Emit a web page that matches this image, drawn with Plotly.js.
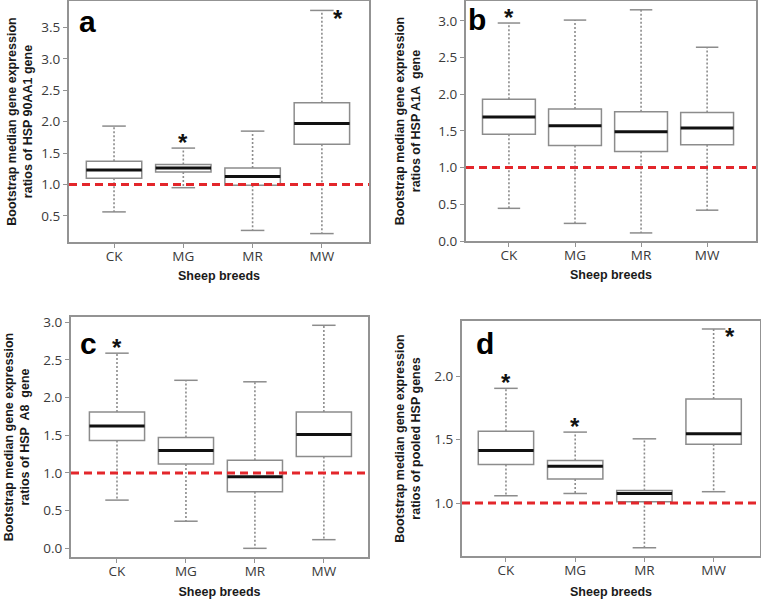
<!DOCTYPE html>
<html><head><meta charset="utf-8">
<script src="https://cdn.plot.ly/plotly-3.0.1.min.js"></script>
<style>html,body{margin:0;padding:0;background:#fff}</style>
</head><body><div id="chart" style="width:761px;height:599px"></div>
<script>
// ---------------- data ----------------
const breeds = ["CK", "MG", "MR", "MW"];
const panelLabels = ["a", "b", "c", "d"];
const yTitleLine1 = "Bootstrap median gene expression";
const geneTitles = ["ratios of HSP 90AA1 gene", "ratios of HSP A1A\u00a0 gene", "ratios of HSP\u00a0 A8\u00a0 gene", "ratios of pooled HSP genes"];
const xTitle = "Sheep breeds";
const referenceRatio = 1.0;

// panel a: HSP90AA1
const a_lower  = [0.565, 0.95, 0.27, 0.22];
const a_q1     = [1.10, 1.20, 0.99, 1.64];
const a_median = [1.23, 1.265, 1.13, 1.97];
const a_q3     = [1.37, 1.32, 1.265, 2.30];
const a_upper  = [1.93, 1.58, 1.85, 3.77];
const a_signif = ["MG", "MW"];

// panel b: HSPA1A
const b_lower  = [0.445, 0.24, 0.11, 0.42];
const b_q1     = [1.455, 1.30, 1.22, 1.31];
const b_median = [1.69, 1.57, 1.49, 1.54];
const b_q3     = [1.93, 1.80, 1.76, 1.75];
const b_upper  = [2.97, 3.01, 3.15, 2.64];
const b_signif = ["CK"];

// panel c: HSPA8
const c_lower  = [0.64, 0.36, 0.0, 0.115];
const c_q1     = [1.43, 1.12, 0.75, 1.22];
const c_median = [1.625, 1.30, 0.95, 1.51];
const c_q3     = [1.81, 1.47, 1.17, 1.81];
const c_upper  = [2.59, 2.23, 2.21, 2.96];
const c_signif = ["CK"];

// panel d: pooled HSP genes
const d_lower  = [1.058, 1.076, 0.648, 1.09];
const d_q1     = [1.304, 1.19, 1.01, 1.465];
const d_median = [1.415, 1.29, 1.076, 1.546];
const d_q3     = [1.567, 1.336, 1.10, 1.82];
const d_upper  = [1.905, 1.56, 1.507, 2.373];
const d_signif = ["CK", "MG", "MW"];

const panels = [
  {lower: a_lower, q1: a_q1, median: a_median, q3: a_q3, upper: a_upper, signif: a_signif},
  {lower: b_lower, q1: b_q1, median: b_median, q3: b_q3, upper: b_upper, signif: b_signif},
  {lower: c_lower, q1: c_q1, median: c_median, q3: c_q3, upper: c_upper, signif: c_signif},
  {lower: d_lower, q1: d_q1, median: d_median, q3: d_q3, upper: d_upper, signif: d_signif}
];

// ---------------- layout geometry ----------------
const W = 761, H = 599;
const frames = [[69, 369, 1, 242], [466, 756, 1, 241], [71, 368, 317, 557], [462, 760, 321, 556]];
const xRanges = [[-0.65, 3.68], [-0.65, 3.74], [-0.667, 3.64], [-0.635, 3.67]];
const yRanges = [[0.086, 3.92], [0.0, 3.27], [-0.115, 3.07], [0.583, 2.436]];
const labelPos = [[87, 22], [477, 20], [88, 343], [485, 343]];
const yTitleStandoff = [6, 15, 11, 11];
const xTitleStandoff = [7, 7, 10, 12];

const boxW = 0.8, capHalf = 0.17;
const gray = "#8c8c8c", frameGray = "#939393";
const traces = [];
const layout = {
  width: W, height: H, margin: {l: 0, r: 0, t: 0, b: 0},
  paper_bgcolor: "#fff", plot_bgcolor: "#fff", showlegend: false,
  shapes: [], annotations: []
};

panels.forEach((p, k) => {
  const sfx = k === 0 ? "" : String(k + 1);
  const xa = "x" + sfx, ya = "y" + sfx;
  const pos = breeds.map((_, i) => i);
  const common = {xaxis: xa, yaxis: ya, hoverinfo: "skip", showlegend: false};

  // whiskers (dotted)
  const wx = [], wy = [];
  pos.forEach(i => { wx.push(i, i, null, i, i, null); wy.push(p.q3[i], p.upper[i], null, p.q1[i], p.lower[i], null); });
  traces.push(Object.assign({type: "scatter", mode: "lines", x: wx, y: wy,
    line: {color: gray, width: 1.6, dash: "2px,2px"}}, common));
  // caps
  const cx = [], cy = [];
  pos.forEach(i => { cx.push(i - capHalf, i + capHalf, null, i - capHalf, i + capHalf, null); cy.push(p.upper[i], p.upper[i], null, p.lower[i], p.lower[i], null); });
  traces.push(Object.assign({type: "scatter", mode: "lines", x: cx, y: cy,
    line: {color: gray, width: 1.5}}, common));
  // boxes
  traces.push(Object.assign({type: "box", x: pos, q1: p.q1, median: p.median, q3: p.q3,
    lowerfence: p.q1, upperfence: p.q3, width: boxW, whiskerwidth: 0, boxpoints: false,
    fillcolor: "#ffffff", line: {color: gray, width: 1.5}}, common));
  // medians
  const mx = [], my = [];
  pos.forEach(i => { mx.push(i - boxW / 2, i + boxW / 2, null); my.push(p.median[i], p.median[i], null); });
  traces.push(Object.assign({type: "scatter", mode: "lines", x: mx, y: my,
    line: {color: "#111", width: 3}}, common));

  const f = frames[k];
  const axFont = {family: "Open Sans", size: 13.5, color: "#3a3a3a"};
  const titleFont = {family: "Liberation Sans", size: 12.5, weight: "bold", color: "#1a1a1a"};
  layout["xaxis" + sfx] = {
    domain: [f[0] / W, f[1] / W], anchor: ya, range: xRanges[k],
    tickmode: "array", tickvals: pos, ticktext: breeds,
    showline: true, mirror: true, linecolor: frameGray, linewidth: 2,
    ticks: "outside", ticklen: 4, tickcolor: frameGray, showgrid: false, zeroline: false,
    ticklabelstandoff: -3,
    tickfont: axFont, title: {text: xTitle, font: titleFont, standoff: xTitleStandoff[k]}
  };
  layout["yaxis" + sfx] = {
    domain: [1 - f[3] / H, 1 - f[2] / H], anchor: xa, range: yRanges[k],
    tick0: 0, dtick: 0.5, tickformat: ".1f",
    showline: true, mirror: true, linecolor: frameGray, linewidth: 2,
    ticks: "outside", ticklen: 4, tickcolor: frameGray, showgrid: false, zeroline: false,
    tickfont: axFont, title: {text: yTitleLine1 + "<br>" + geneTitles[k], font: titleFont, standoff: yTitleStandoff[k]}
  };

  // reference line at ratio 1
  layout.shapes.push({type: "line", xref: xa + " domain", x0: 0, x1: 1, yref: ya,
    y0: referenceRatio, y1: referenceRatio, line: {color: "#e3262b", width: 3, dash: "8px,5px"}});

  // panel letter
  layout.annotations.push({xref: "paper", yref: "paper", x: labelPos[k][0] / W, y: 1 - labelPos[k][1] / H,
    xanchor: "center", yanchor: "middle", showarrow: false, text: panelLabels[k],
    font: {family: "Liberation Sans", size: 30, weight: "bold", color: "#000"}});

  // significance stars
  const pxPerUnit = (f[3] - f[2]) / (yRanges[k][1] - yRanges[k][0]);
  p.signif.forEach(b => {
    const i = breeds.indexOf(b);
    const room = (yRanges[k][1] - p.upper[i]) * pxPerUnit;
    const beside = room < 16;
    layout.annotations.push({xref: xa, yref: ya, x: i, y: p.upper[i],
      xanchor: "center", yanchor: "middle", showarrow: false, text: "*",
      xshift: beside ? 16 : 0, yshift: beside ? -8 : 6,
      font: {family: "Liberation Sans", size: 24, weight: "bold", color: "#111"}});
  });
});

Plotly.newPlot("chart", traces, layout, {staticPlot: true, displayModeBar: false});
</script></body></html>
